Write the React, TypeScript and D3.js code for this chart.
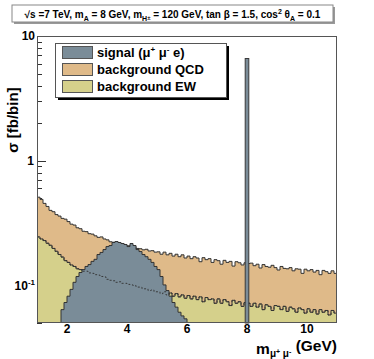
import React from 'react';
import * as d3 from 'd3';

// histogram binning (GeV)
const binStart = 1.0;
const binWidth = 0.1;

// background QCD, bins 1.0 .. 10.9
const bgQCD = [
  0.51, 0.49, 0.455, 0.43, 0.40, 0.39, 0.37, 0.36, 0.345, 0.34,
  0.325, 0.31, 0.305, 0.29, 0.285, 0.272, 0.27, 0.26, 0.258, 0.25,
  0.243, 0.245, 0.236, 0.232, 0.224, 0.222, 0.22, 0.215, 0.216, 0.21,
  0.208, 0.204, 0.205, 0.198, 0.197, 0.193, 0.195, 0.189, 0.19, 0.185,
  0.186, 0.178, 0.185, 0.176, 0.181, 0.172, 0.178, 0.17, 0.176, 0.166,
  0.172, 0.164, 0.17, 0.166, 0.155, 0.167, 0.161, 0.164, 0.153, 0.161,
  0.158, 0.148, 0.159, 0.153, 0.156, 0.143, 0.155, 0.152, 0.146, 0.152,
  0.15, 0.151, 0.144, 0.148, 0.138, 0.147, 0.142, 0.14, 0.145, 0.139,
  0.133, 0.142, 0.137, 0.136, 0.139, 0.131, 0.136, 0.135, 0.125, 0.135,
  0.131, 0.134, 0.128, 0.132, 0.122, 0.132, 0.129, 0.125, 0.131, 0.125,
];

// background EW, bins 1.0 .. 10.9
const bgEW = [
  0.245, 0.236, 0.229, 0.218, 0.21, 0.198, 0.188, 0.177, 0.169, 0.158,
  0.153, 0.146, 0.142, 0.136, 0.134, 0.13, 0.13, 0.126, 0.125, 0.122,
  0.121, 0.118, 0.117, 0.112, 0.11, 0.109, 0.106, 0.107, 0.104, 0.104,
  0.102, 0.101, 0.1, 0.097, 0.097, 0.094, 0.094, 0.091, 0.092, 0.089,
  0.089, 0.086, 0.089, 0.084, 0.087, 0.082, 0.086, 0.081, 0.084, 0.079,
  0.083, 0.078, 0.082, 0.077, 0.081, 0.074, 0.08, 0.077, 0.078, 0.072,
  0.078, 0.072, 0.077, 0.074, 0.069, 0.076, 0.072, 0.074, 0.068, 0.073,
  0.072, 0.068, 0.072, 0.067, 0.071, 0.064, 0.07, 0.068, 0.063, 0.069,
  0.068, 0.064, 0.068, 0.062, 0.067, 0.065, 0.061, 0.066, 0.064, 0.06,
  0.065, 0.061, 0.064, 0.059, 0.064, 0.061, 0.063, 0.058, 0.063, 0.06,
];

// signal (mu+ mu- e), bins 1.8 .. 5.9
const signalStart = 1.8;
const signal = [
  0.064, 0.073, 0.082, 0.093, 0.106, 0.118, 0.127, 0.134, 0.142, 0.147,
  0.156, 0.162, 0.177, 0.184, 0.194, 0.205, 0.209, 0.221, 0.225, 0.221,
  0.217, 0.213, 0.205, 0.217, 0.209, 0.194, 0.187, 0.177, 0.17, 0.162,
  0.153, 0.142, 0.134, 0.118, 0.101, 0.091, 0.082, 0.073, 0.067, 0.061,
  0.057, 0.054,
];

// narrow signal peak at m_A
const peakMass = 8.0;
const peakWidth = 0.12;
const peakValue = 6.6;

const xTicks = [2, 4, 6, 8, 10];
const xDomain = [1, 11];
const yDomain = [0.05, 10];

const COL_SIG = '#7a8c98';
const COL_QCD = '#dfba89';
const COL_EW = '#d5d08b';
const LINE = '#333';
const FONT = '"Liberation Sans", Arial, Helvetica, sans-serif';

const W = 374;
const H = 359;
const plot = { left: 37, right: 337, top: 36, bottom: 323 };

type Pt = [number, number];

function stepPoints(values: number[], start: number): Pt[] {
  const pts: Pt[] = [];
  values.forEach((v, i) => {
    const a = start + i * binWidth;
    pts.push([a, v], [a + binWidth, v]);
  });
  return pts;
}

export default function App() {
  const x = d3.scaleLinear().domain(xDomain).range([plot.left, plot.right]);
  const y = d3.scaleLog().domain(yDomain).range([plot.bottom, plot.top]).clamp(true);
  const yv = (v: number) => y(Math.max(v, yDomain[0]));

  const area = d3.area<Pt>().x(d => x(d[0])).y0(plot.bottom).y1(d => yv(d[1]));
  const line = d3.line<Pt>().x(d => x(d[0])).y(d => yv(d[1]));

  const qcdPts = stepPoints(bgQCD, binStart);
  const ewPts = stepPoints(bgEW, binStart);
  const sigPts = stepPoints(signal, signalStart);
  const sigEnd = signalStart + signal.length * binWidth;
  const sigOutline: Pt[] = [[signalStart, 0], ...sigPts, [sigEnd, 0]];

  // log ticks: majors at decades, minors at 2..9
  const majors = [0.1, 1, 10];
  const minors: number[] = [];
  [0.01, 0.1, 1].forEach(d => {
    for (let k = 2; k <= 9; k++) {
      const v = d * k;
      if (v >= yDomain[0] && v <= yDomain[1]) minors.push(v);
    }
  });

  const legend = [
    { color: COL_SIG, label: 'sig' },
    { color: COL_QCD, label: 'background QCD' },
    { color: COL_EW, label: 'background EW' },
  ];

  return (
    <svg width={W} height={H} style={{ position: 'absolute', left: 0, top: 0, fontFamily: FONT }}>
      <rect width={W} height={H} fill="#fff" />

      {/* title box */}
      <rect x={14} y={7} width={321} height={17} fill="#999" />
      <rect x={12} y={5} width={321} height={17} fill="#fff" stroke="#888" strokeWidth={1} />
      <text x={172.5} y={17.5} textAnchor="middle" fontSize={10} fontWeight="bold" fill="#000">
        √s =7 TeV, m<tspan fontSize={7} dy={3}>A</tspan>
        <tspan dy={-3}> = 8 GeV, m</tspan>
        <tspan fontSize={7} dy={3}>H</tspan>
        <tspan fontSize={6} dy={-1}>±</tspan>
        <tspan dy={-2}> = 120 GeV, tan β = 1.5, cos</tspan>
        <tspan fontSize={7} dy={-4}>2</tspan>
        <tspan dy={4}> θ</tspan>
        <tspan fontSize={7} dy={3}>A</tspan>
        <tspan dy={-3}> = 0.1</tspan>
      </text>

      {/* axis ticks (drawn under the histograms) */}
      <g stroke={LINE} strokeWidth={1}>
        {majors.map(v => (
          <line key={'M' + v} x1={plot.left} x2={plot.left + 9} y1={Math.round(y(v)) + 0.5} y2={Math.round(y(v)) + 0.5} />
        ))}
        {minors.map(v => (
          <line key={'m' + v} x1={plot.left} x2={plot.left + 5} y1={Math.round(y(v)) + 0.5} y2={Math.round(y(v)) + 0.5} />
        ))}
        {xTicks.map(t => (
          <line key={'x' + t} x1={x(t)} x2={x(t)} y1={plot.bottom} y2={plot.bottom - 8} />
        ))}
      </g>

      {/* backgrounds */}
      <path d={area(qcdPts) ?? ''} fill={COL_QCD} />
      <path d={line(qcdPts) ?? ''} fill="none" stroke={LINE} strokeWidth={1} />
      <path d={area(ewPts) ?? ''} fill={COL_EW} />
      <path d={line(ewPts) ?? ''} fill="none" stroke={LINE} strokeWidth={1} />

      {/* signal */}
      <path d={area(sigPts) ?? ''} fill={COL_SIG} />
      <path d={line(sigOutline) ?? ''} fill="none" stroke={LINE} strokeWidth={1} />
      <path d={line(ewPts) ?? ''} fill="none" stroke={LINE} strokeWidth={0.9} strokeDasharray="2,2" />

      <rect
        x={x(peakMass - peakWidth / 2)}
        y={yv(peakValue)}
        width={x(peakMass + peakWidth / 2) - x(peakMass - peakWidth / 2)}
        height={plot.bottom - yv(peakValue)}
        fill={COL_SIG}
        stroke="#3a3a3a"
        strokeWidth={1}
      />

      {/* frame */}
      <rect x={plot.left + 0.5} y={plot.top + 0.5} width={plot.right - plot.left - 1} height={plot.bottom - plot.top - 1}
        fill="none" stroke="#555" strokeWidth={1} />

      {/* y tick labels */}
      <g fontSize={12} fontWeight="bold" textAnchor="end" fill="#000">
        <text x={35} y={y(10) + 4}>10</text>
        <text x={34} y={y(1) + 4.5}>1</text>
        <text x={35} y={y(0.1) + 5}>
          10<tspan fontSize={8} dy={-5}>-1</tspan>
        </text>
      </g>

      {/* x tick labels */}
      <g fontSize={12} fontWeight="bold" textAnchor="middle" fill="#000">
        {xTicks.map(t => (
          <text key={t} x={x(t)} y={plot.bottom + 10}>{t}</text>
        ))}
      </g>

      {/* axis titles */}
      <text transform={`translate(18,${120}) rotate(-90)`} textAnchor="middle" fontSize={15} fontWeight="bold">
        σ [fb/bin]
      </text>
      <text x={plot.right} y={354} textAnchor="end" fontSize={15.5} fontWeight="bold">
        m<tspan fontSize={10} dy={3}>μ</tspan>
        <tspan fontSize={7} dy={-3}>+</tspan>
        <tspan fontSize={10} dy={3}> μ</tspan>
        <tspan fontSize={7} dy={-3}>-</tspan>
        <tspan dy={-3}> (GeV)</tspan>
      </text>

      {/* legend */}
      <rect x={58} y={46} width={171} height={54} fill="#000" />
      <rect x={55.5} y={43.5} width={171} height={54} fill="#fff" stroke="#555" strokeWidth={1} />
      {legend.map((it, i) => (
        <g key={i} transform={`translate(0,${46 + i * 17})`}>
          <rect x={62.5} y={0.5} width={30} height={12} fill={it.color} stroke="#555" strokeWidth={1} />
          <text x={97} y={11} fontSize={13} fontWeight="bold">
            {i === 0 ? (
              <>
                signal (μ<tspan fontSize={8} dy={-5}>+</tspan>
                <tspan dy={5}> μ</tspan>
                <tspan fontSize={8} dy={-5}>-</tspan>
                <tspan dy={5}> e)</tspan>
              </>
            ) : (
              it.label
            )}
          </text>
        </g>
      ))}
    </svg>
  );
}
